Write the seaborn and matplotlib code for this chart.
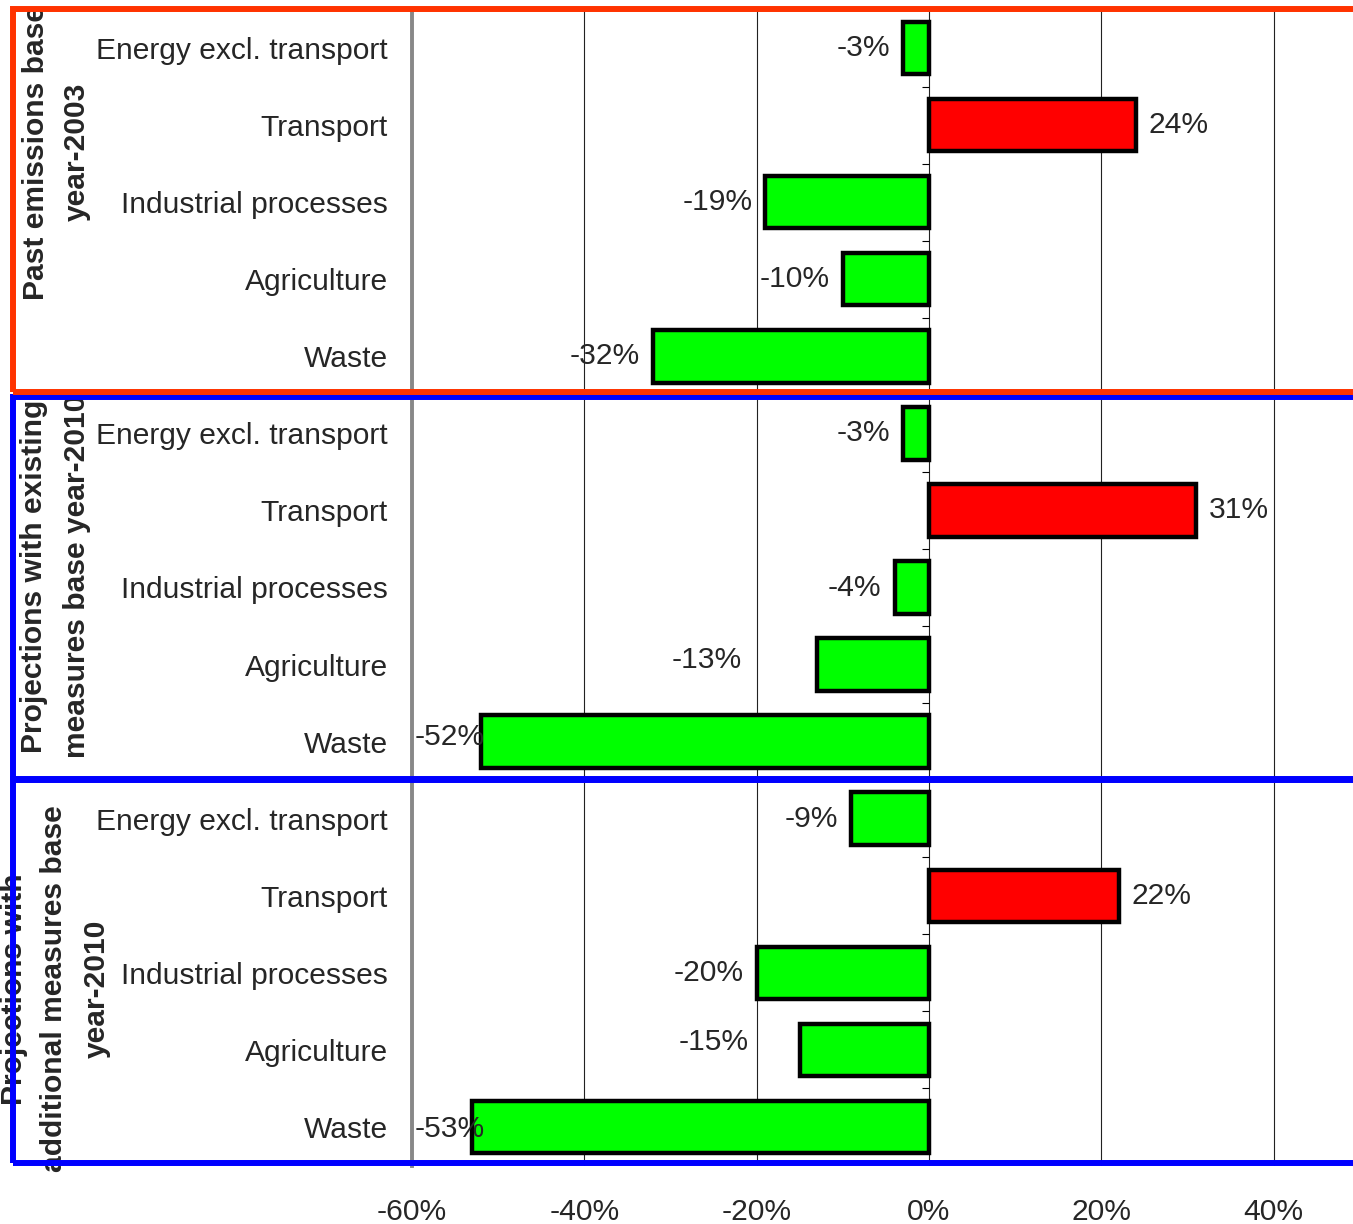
import pandas as pd
import seaborn as sns
import matplotlib.pyplot as plt
from matplotlib.patches import Rectangle
from matplotlib.ticker import FuncFormatter

groups = ["Past emissions base\nyear-2003",
          "Projections with existing\nmeasures base year-2010",
          "Projections with\nadditional measures base\nyear-2010"]
sectors = ["Energy excl. transport", "Transport", "Industrial processes",
           "Agriculture", "Waste"]
past_2003 = [-3, 24, -19, -10, -32]
wem_2010 = [-3, 31, -4, -13, -52]
wam_2010 = [-9, 22, -20, -15, -53]
x_ticks = [-60, -40, -20, 0, 20, 40]

rows = []
for g, vals in zip(groups, [past_2003, wem_2010, wam_2010]):
    for s, v in zip(sectors, vals):
        rows.append((g + "|" + s, s, v, "up" if v > 0 else "down"))
df = pd.DataFrame(rows, columns=["key", "sector", "value", "direction"])

sns.set_style("white")
plt.rcParams['font.family'] = ['Liberation Sans', 'DejaVu Sans']

W, H = 1353, 1224
fig = plt.figure(figsize=(W / 100, H / 100), dpi=100)
ax = fig.add_axes([412 / W, (H - 1165.5) / H, (W - 412) / W, (1165.5 - 9.5) / H])

sns.barplot(data=df, x="value", y="key", hue="direction", order=df["key"],
            palette={"up": "#FF0000", "down": "#00FF00"}, dodge=False,
            width=0.68, edgecolor="black", linewidth=3.2, saturation=1,
            errorbar=None, legend=False, ax=ax)

ax.set_xlim(-60, 49.2)
ax.set_ylim(14.5, -0.5)
ax.set_xticks(x_ticks)
ax.xaxis.set_major_formatter(FuncFormatter(lambda v, p: f"{int(v)}%"))
ax.xaxis.grid(True, color="#222222", lw=0.8)
ax.set_axisbelow(True)
ax.tick_params(axis="x", direction="out", length=8.6, width=0.8,
               color="black", pad=15, labelsize=21.6)
ax.set_yticks(range(len(df)))
ax.set_yticklabels(df["sector"])
ax.tick_params(axis="y", length=0, pad=17.3, labelsize=21.6)
ax.set_xlabel("")
ax.set_ylabel("")
for side in ["top", "right", "bottom"]:
    ax.spines[side].set_visible(False)
ax.spines["left"].set_color("#888888")
ax.spines["left"].set_linewidth(2.8)

# small category ticks on the zero line
ax.hlines([i + 0.5 for i in range(len(df) - 1)], -0.8, 0, color="black", lw=0.8)

# a few labels sit off their default spot in the original (offsets in points)
nudge = {8: (-45, 3), 9: (0, 3.5), 13: (-27, 6), 14: (0, -1.5)}
for i, v in enumerate(df["value"]):
    dx, dy = nudge.get(i, (0, 0))
    if v > 0:
        xy, off, ha = (v, i), 9.4, "left"
    elif v > -45:
        xy, off, ha = (v, i), -9.4, "right"
    else:
        xy, off, ha = (-60, i), 2, "left"
    ax.annotate(f"{v}%", xy, xytext=(off + dx, dy), textcoords="offset points",
                ha=ha, va="center", fontsize=21.6)

# rotated group titles
label_x = [[36, 77], [34, 77], [14.5, 54, 97]]
label_y = [152, 576, 989]
for g, xs, y in zip(groups, label_x, label_y):
    for line, x in zip(g.split("\n"), xs):
        fig.text(x / W, 1 - y / H, line, rotation=90, ha="center", va="center",
                 fontsize=21.6, fontweight="bold")

# group frames
frames = [(779, 1163, "#0000FF"), (397, 780, "#0000FF"), (8.5, 392, "#FF3300")]
for y0, y1, c in frames:
    fig.add_artist(Rectangle((13 / W, 1 - y1 / H), 1.05 - 13 / W, (y1 - y0) / H,
                             transform=fig.transFigure, fill=False,
                             edgecolor=c, lw=4.3, zorder=10))

fig.savefig("out.png", dpi=100)
